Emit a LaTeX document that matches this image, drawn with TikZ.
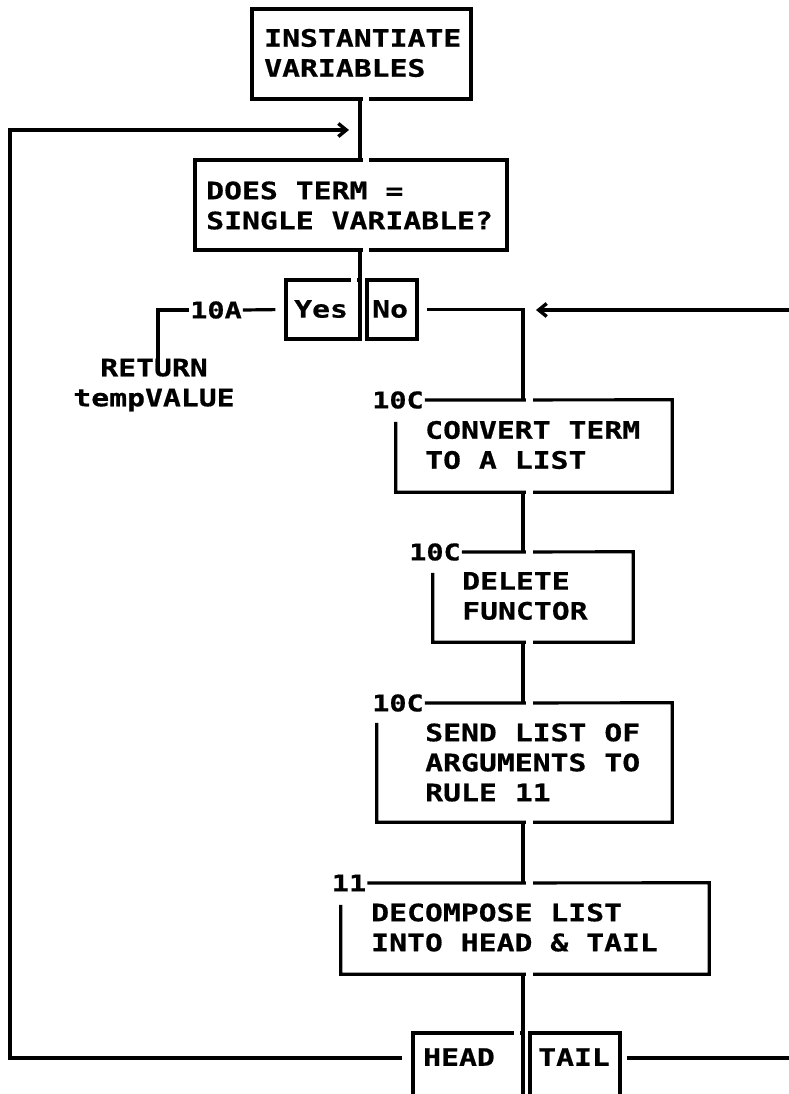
\documentclass[tikz,border=0pt]{standalone}
\usepackage{fontspec}
\newfontfamily\plotfont{DejaVu Sans Mono}[FakeStretch=1.24,FakeBold=0.6]
\usetikzlibrary{arrows.meta,calc}
\tikzset{
  ln/.style={line width=3.2pt, line cap=butt, line join=miter},
  boxn/.style={draw, line width=3.2pt, inner sep=0pt, minimum width=#1},
  txt/.style={font=\plotfont\bfseries\fontsize{24}{30}\selectfont, inner sep=0pt, align=left, anchor=west},
  lbl/.style={font=\plotfont\bfseries\fontsize{23}{28}\selectfont, inner sep=1pt},
  gapw/.style={draw=white, line width=5pt},
  barb/.style={-{Straight Barb[length=8pt,width=13pt,line width=3.4pt]}}
}
\begin{document}
\begin{tikzpicture}[x=1pt,y=-1pt]
\useasboundingbox (0,0) rectangle (789,1094);
\clip (0,0) rectangle (789,1094);
% guide coordinates
\coordinate (m1) at (360,0);
\coordinate (m2) at (523,0);
\coordinate (loopL) at (10,1058);
\coordinate (loopT) at (10,130);
\coordinate (loopR) at (349,130);
\coordinate (rightB) at (795,1058);
\coordinate (rightT) at (795,310);
\coordinate (tailIn) at (536,310);
\coordinate (rtop) at (158,359);
\coordinate (bot) at (523,1100);

% boxes
\node[boxn=219pt, minimum height=90pt] (b1) at (361.5,54) {};
\node[boxn=312pt, minimum height=90pt] (b2) at (351,205) {};
\node[boxn=74pt, minimum height=59pt] (yes) at (323,309.5) {};
\node[boxn=50pt, minimum height=59pt] (no) at (392,309.5) {};
\node[inner sep=0pt, minimum width=276pt, minimum height=92pt] (b3) at (534,446) {};
\node[inner sep=0pt, minimum width=200pt, minimum height=90pt] (b4) at (533,597) {};
\node[inner sep=0pt, minimum width=295pt, minimum height=119pt] (b5) at (524.5,762.5) {};
\node[inner sep=0pt, minimum width=368pt, minimum height=91pt] (b6) at (525,928.5) {};
\node[boxn=110pt, minimum height=75pt] (hd) at (468,1070.5) {};
\node[boxn=90pt, minimum height=75pt] (tl) at (575,1070.5) {};

% texts
\node[txt] (t1) at (264,53) {INSTANTIATE\\VARIABLES};
\node[txt] (t2) at (206,205.5) {DOES TERM =\\SINGLE VARIABLE?};
\node[txt] (tyes) at (294,309) {Yes};
\node[txt] (tno) at (372,309) {No};
\node[txt, anchor=center, align=center] (ret) at (154,385) {RETURN\\tempVALUE};
\node[txt] (t3) at (425,445) {CONVERT TERM\\TO A LIST};
\node[txt] (t4) at (462,596) {DELETE\\FUNCTOR};
\node[txt] (t5) at (425,762.5) {SEND LIST OF\\ARGUMENTS TO\\RULE 11};
\node[txt] (t6) at (371,927.5) {DECOMPOSE LIST\\INTO HEAD \& TAIL};
\node[txt] (thd) at (423,1057) {HEAD};
\node[txt] (ttl) at (538,1057) {TAIL};

% labels
\node[lbl] (l10a) at (216,310) {10A};
\node[lbl] (l3) at (398,400) {10C};
\node[lbl] (l4) at (435,552) {10C};
\node[lbl] (l5) at (398,703) {10C};
\node[lbl] (l6) at (349,883) {11};

% open box outlines
\draw[ln] (l3.east) -- (b3.north east) -- (b3.south east) -- (b3.south west) -- ([yshift=-22pt]b3.north west);
\draw[ln] (l4.east) -- (b4.north east) -- (b4.south east) -- (b4.south west) -- ([yshift=-21pt]b4.north west);
\draw[ln] (l5.east) -- (b5.north east) -- (b5.south east) -- (b5.south west) -- ([yshift=-20pt]b5.north west);
\draw[ln] (l6.east) -- (b6.north east) -- (b6.south east) -- (b6.south west) -- ([yshift=-22pt]b6.north west);

% gaps at junctions
\draw[gapw] (363,99) -- (369,99);
\draw[gapw] (363,160) -- (369,160);
\draw[gapw] (363,250) -- (369,250);
\draw[gapw] (351,280) -- (357,280);
\foreach \yy in {400,492,552,642,703,822,883,974} {\draw[gapw] (526,\yy) -- (533,\yy);}
\draw[gapw] (514,1033) -- (520,1033);

% main connectors
\draw[ln] (m1 |- b1.south) -- (m1 |- b2.north);
\draw[ln] (m1 |- b2.south) -- (m1 |- yes.south);
\draw[ln, shorten <=8pt] (no.east) -| (m2 |- b3.north);
\draw[ln] (m2 |- b3.south) -- (m2 |- b4.north);
\draw[ln] (m2 |- b4.south) -- (m2 |- b5.north);
\draw[ln] (m2 |- b5.south) -- (m2 |- b6.north);
\draw[ln] (m2 |- b6.south) -- (bot);

% yes branch
\draw[ln, shorten <=9pt] (yes.west) -- (l10a.east);
\draw[ln] (l10a.west) -| (rtop);

% loops
\draw[ln, barb, shorten <=9pt] (hd.west |- loopL) -- (loopL) -- (loopT) -- (loopR);
\draw[ln, shorten <=5pt] (tl.east |- rightB) -- (rightB);
\draw[ln, barb] (rightT) -- (tailIn);
\end{tikzpicture}
\end{document}
